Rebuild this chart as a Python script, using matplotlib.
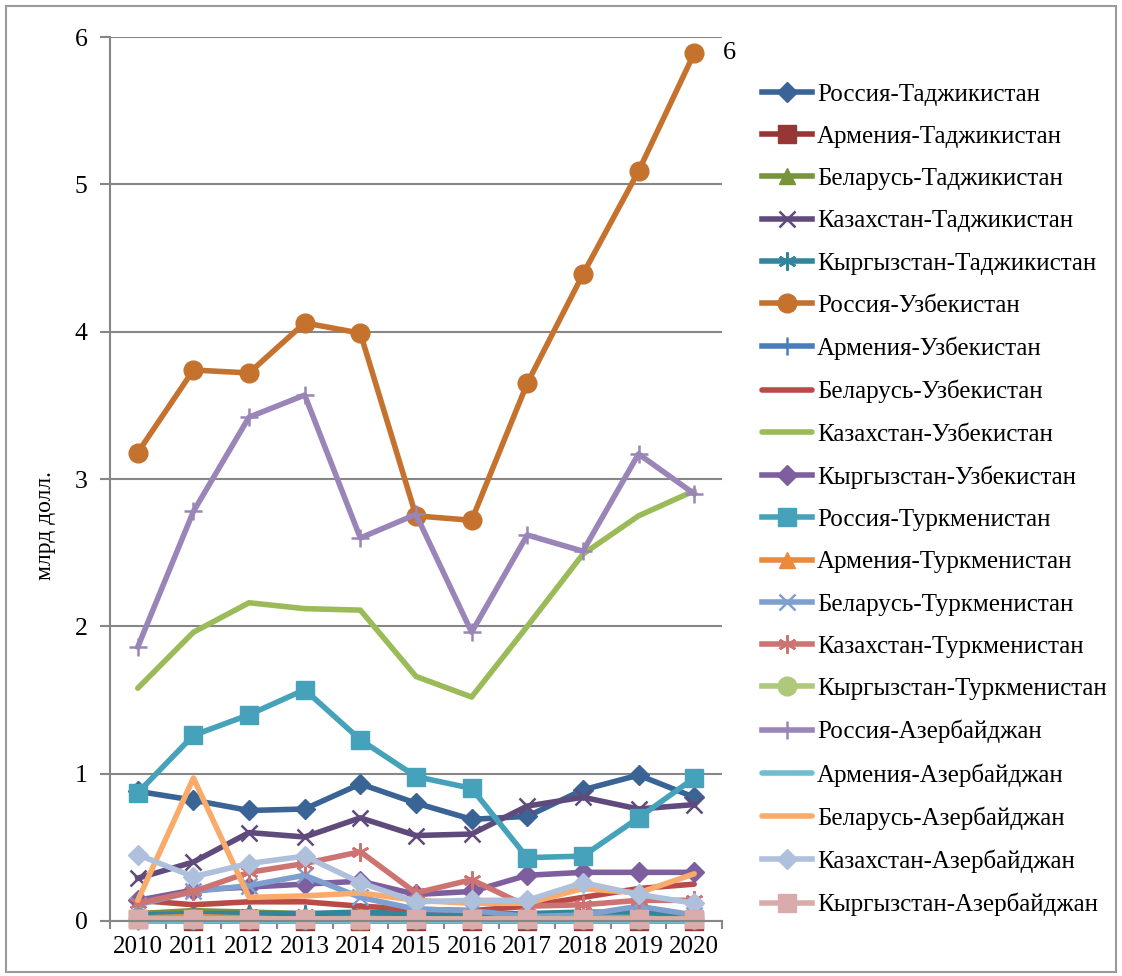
import numpy as np
import matplotlib
matplotlib.use("Agg")
import matplotlib.pyplot as plt
from matplotlib.patches import Rectangle
from matplotlib.ticker import MultipleLocator

plt.rcParams['font.family'] = ['Liberation Serif', 'DejaVu Serif']

years = [2010, 2011, 2012, 2013, 2014, 2015, 2016, 2017, 2018, 2019, 2020]

# values, billion USD
ru_tj = [0.88, 0.82, 0.75, 0.76, 0.93, 0.80, 0.69, 0.71, 0.89, 0.99, 0.84]
am_tj = [0.01, 0.00, 0.00, 0.00, 0.00, 0.00, 0.00, 0.00, 0.00, 0.00, 0.00]
by_tj = [0.05, 0.07, 0.06, 0.05, 0.04, 0.03, 0.03, 0.02, 0.02, 0.02, 0.02]
kz_tj = [0.29, 0.40, 0.60, 0.57, 0.70, 0.58, 0.59, 0.78, 0.84, 0.76, 0.79]
kg_tj = [0.04, 0.05, 0.05, 0.05, 0.06, 0.05, 0.05, 0.05, 0.06, 0.06, 0.04]
ru_uz = [3.18, 3.74, 3.72, 4.06, 3.99, 2.75, 2.72, 3.65, 4.39, 5.09, 5.89]
am_uz = [0.00, 0.00, 0.00, 0.00, 0.00, 0.00, 0.00, 0.00, 0.00, 0.00, 0.00]
by_uz = [0.14, 0.11, 0.13, 0.13, 0.10, 0.08, 0.07, 0.10, 0.16, 0.22, 0.25]
kz_uz = [1.58, 1.96, 2.16, 2.12, 2.11, 1.66, 1.52, 2.00, 2.49, 2.75, 2.92]
kg_uz = [0.14, 0.21, 0.23, 0.25, 0.27, 0.18, 0.20, 0.31, 0.33, 0.33, 0.33]
ru_tm = [0.87, 1.26, 1.40, 1.57, 1.23, 0.98, 0.90, 0.43, 0.44, 0.70, 0.97]
am_tm = [0.02, 0.03, 0.02, 0.01, 0.00, 0.01, 0.01, 0.01, 0.01, 0.01, 0.01]
by_tm = [0.11, 0.20, 0.24, 0.31, 0.16, 0.08, 0.07, 0.03, 0.04, 0.10, 0.04]
kz_tm = [0.12, 0.20, 0.33, 0.39, 0.47, 0.19, 0.28, 0.10, 0.11, 0.14, 0.14]
kg_tm = [0.01, 0.01, 0.01, 0.01, 0.01, 0.01, 0.01, 0.01, 0.01, 0.01, 0.01]
ru_az = [1.86, 2.78, 3.42, 3.57, 2.60, 2.76, 1.96, 2.62, 2.51, 3.17, 2.90]
am_az = [0.00, 0.00, 0.00, 0.00, 0.00, 0.00, 0.00, 0.00, 0.00, 0.00, 0.00]
by_az = [0.14, 0.97, 0.16, 0.17, 0.19, 0.14, 0.12, 0.12, 0.22, 0.19, 0.32]
kz_az = [0.45, 0.30, 0.39, 0.44, 0.26, 0.13, 0.14, 0.14, 0.26, 0.18, 0.12]
kg_az = [0.01, 0.01, 0.01, 0.01, 0.01, 0.01, 0.01, 0.01, 0.01, 0.01, 0.01]

labels = ['Россия-Таджикистан', 'Армения-Таджикистан', 'Беларусь-Таджикистан',
          'Казахстан-Таджикистан', 'Кыргызстан-Таджикистан', 'Россия-Узбекистан',
          'Армения-Узбекистан', 'Беларусь-Узбекистан', 'Казахстан-Узбекистан',
          'Кыргызстан-Узбекистан', 'Россия-Туркменистан', 'Армения-Туркменистан',
          'Беларусь-Туркменистан', 'Казахстан-Туркменистан', 'Кыргызстан-Туркменистан',
          'Россия-Азербайджан', 'Армения-Азербайджан', 'Беларусь-Азербайджан',
          'Казахстан-Азербайджан', 'Кыргызстан-Азербайджан']
series = [ru_tj, am_tj, by_tj, kz_tj, kg_tj, ru_uz, am_uz, by_uz, kz_uz, kg_uz,
          ru_tm, am_tm, by_tm, kz_tm, kg_tm, ru_az, am_az, by_az, kz_az, kg_az]

colors = ['#3a6496', '#973735', '#77933c', '#5f4a7b', '#31859c', '#c5722e',
          '#4a7ebb', '#b84a47', '#9bbb59', '#7d5fa0', '#45a2ba', '#ea8a3e',
          '#7f9fcf', '#cd7371', '#afc97a', '#9a85b8', '#6fbdd1', '#f9ab6b',
          '#afc0dc', '#d9abaa']
asterisk = (6, 2, 0)
markers = ['D', 's', '^', 'x', asterisk, 'o', '+', None, None, 'D',
           's', '^', 'x', asterisk, 'o', '+', None, None, 'D', 's']
msizes = {'D': 10, 's': 13.5, '^': 12, 'x': 11, 'o': 13.5, '+': 13}

fig = plt.figure(figsize=(11.22, 9.76), dpi=100)
ax = fig.add_axes([0.098, 0.0564, 0.5455, 0.9056])

for vals, lab, col, mk in zip(series, labels, colors, markers):
    if mk is None:
        ax.plot(years, vals, color=col, lw=4, label=lab, solid_capstyle='round',
                clip_on=False)
    elif mk is asterisk:
        ax.plot(years, vals, color=col, lw=4, marker=mk, ms=13, mew=1.8, label=lab,
                clip_on=False)
    elif mk in ('x', '+'):
        ax.plot(years, vals, color=col, lw=4, marker=mk, ms=msizes[mk], mew=1.8,
                label=lab, clip_on=False)
    else:
        ax.plot(years, vals, color=col, lw=4, marker=mk, ms=msizes[mk], mew=1,
                mec=col, label=lab, clip_on=False)

ax.annotate(f"{round(ru_uz[-1])}", xy=(years[-1], ru_uz[-1]), xytext=(21, 0),
            textcoords='offset points', va='center', ha='left', fontsize=19)

ax.set_xlim(2009.5, 2020.5)
ax.set_ylim(0, 6)
ax.set_xticks(years)
ax.set_xticklabels([str(y) for y in years])
ax.xaxis.set_minor_locator(MultipleLocator(1, offset=0.5))
ax.yaxis.set_major_locator(MultipleLocator(1))
ax.tick_params(axis='x', which='major', length=0, pad=11, labelsize=18)
ax.tick_params(axis='x', which='minor', length=6, width=1.5, color='#868686', direction='out')
ax.tick_params(axis='y', length=7, width=1.5, color='#868686', pad=9, labelsize=18.5)
ax.grid(axis='y', color='#868686', lw=1.5)
ax.set_axisbelow(True)
for s in ['top', 'right']:
    ax.spines[s].set_visible(False)
for s in ['left', 'bottom']:
    ax.spines[s].set_color('#868686')
    ax.spines[s].set_linewidth(1.5)

fig.text(45 / 1122, 1 - 526 / 976, 'млрд долл.', rotation=90, ha='center', va='center',
         fontsize=17)

fig.legend(loc='upper left', bbox_to_anchor=(0.659, 0.938), frameon=False,
           fontsize=18, handlelength=2.0, handletextpad=0.2, labelspacing=0.79)

fig.patches.append(Rectangle((6 / 1122, 4 / 976), 1110 / 1122, 966 / 976,
                             transform=fig.transFigure, fill=False,
                             edgecolor='#9a9a9a', lw=1.5))

fig.savefig('out.png', dpi=100)
